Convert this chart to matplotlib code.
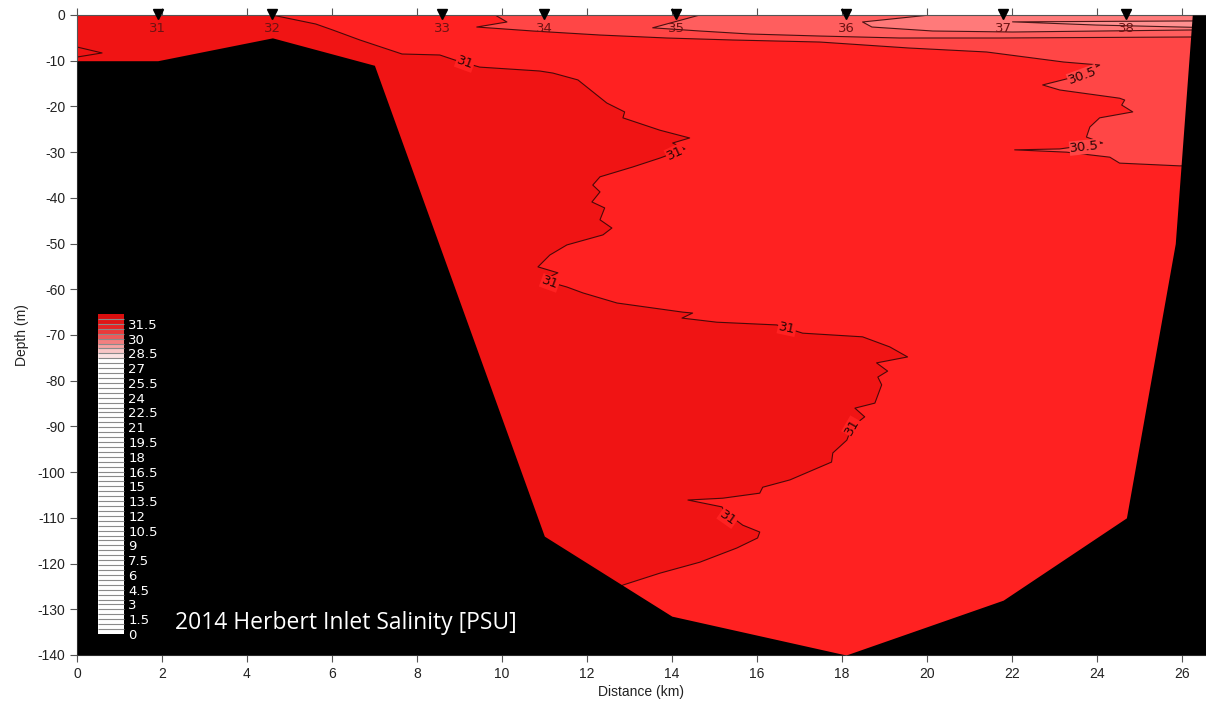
import numpy as np
import matplotlib
matplotlib.use("Agg")
import matplotlib.pyplot as plt
from matplotlib.colors import ListedColormap, BoundaryNorm
from matplotlib.cm import ScalarMappable

plt.rcParams['font.family'] = ['Liberation Sans Narrow', 'Liberation Sans', 'DejaVu Sans']
plt.rcParams['axes.unicode_minus'] = False

# stations along the section
station_names = ['31', '32', '33', '34', '35', '36', '37', '38']
station_km = [1.9, 4.6, 8.6, 11.0, 14.1, 18.1, 21.8, 24.7]

# bottom profile (km, m)
bathy_km = [0.0, 1.9, 4.6, 7.0, 11.0, 14.0, 18.1, 21.8, 24.7, 25.85, 26.25, 26.6]
bathy_m = [-10, -10, -5, -11, -114, -131.5, -140, -128, -110, -50, 0, 0]

# isohaline 31
c31_km = [4.59, 5.62, 6.02, 6.66, 7.65, 8.54, 8.89, 9.48, 10.89, 11.2, 11.79, 12.47, 12.89,
          12.85, 13.72, 14.42, 14.02, 14.31, 13.72, 13.08, 12.31, 12.14, 12.31, 12.12, 12.42,
          12.31, 12.59, 12.38, 11.53, 11.13, 10.85, 11.32, 10.96, 11.53, 11.91, 12.71, 14.26,
          14.49, 14.24, 15.06, 16.47, 17.08, 18.49, 19.13, 19.55, 18.82, 19.08, 18.85, 18.94,
          18.78, 18.31, 18.54, 18.24, 18.12, 17.79, 17.76, 16.78, 16.14, 16.07, 15.2, 14.38,
          15.18, 15.25, 15.67, 16.07, 16.02, 15.53, 14.66, 13.72, 12.85, 12.5]
c31_m = [0, -1.97, -3.28, -5.47, -8.53, -8.75, -9.84, -11.4, -12.25, -12.7, -14.2, -19.25, -21.2,
         -22.5, -25.2, -26.9, -28.0, -29.3, -31.3, -33.25, -35.4, -37.2, -38.7, -40.9, -42.2,
         -44.8, -46.6, -48.1, -50.3, -52.5, -55.1, -56.4, -58.0, -59.5, -60.8, -63.0, -65.0,
         -65.2, -66.3, -67.2, -67.8, -69.6, -70.4, -72.6, -74.8, -76.1, -77.9, -79.2, -80.9,
         -84.9, -86.0, -87.9, -90.1, -93.0, -95.8, -97.8, -101.7, -103.3, -104.6, -105.7, -106.1,
         -107.6, -108.7, -111.6, -113.1, -114.4, -116.6, -119.7, -122.1, -124.7, -127]

# small tongue at the left edge
cleft_km = [0.0, 0.59, 0.0]
cleft_m = [-7.0, -8.3, -9.2]

# isohaline 30.5
c305_km = [9.84, 10.12, 9.41, 10.73, 12.31, 13.88, 15.44, 17.48, 19.58, 21.41, 23.22, 24.07,
           23.67, 22.73, 23.13, 24.54, 24.66, 24.59, 24.85, 24.07, 23.84, 23.76, 24.14, 23.13,
           22.07, 23.29, 24.31, 24.54, 25.95, 26.6]
c305_m = [0, -1.53, -2.63, -3.5, -4.38, -5.03, -5.47, -5.91, -7.22, -8.09, -10.28, -10.94,
          -13.1, -15.3, -16.4, -18.2, -18.6, -19.7, -21.2, -22.5, -24.5, -26.7, -28.0, -29.3,
          -29.5, -30.0, -31.1, -32.4, -33.0, -33.0]

# isohaline 30
c30_km = [14.66, 13.55, 14.66, 15.84, 17.48, 19.36, 21.72, 26.19, 26.6]
c30_m = [0, -2.8, -3.5, -4.16, -4.6, -5.03, -5.03, -4.81, -4.81]

# isohaline 29.5
c295_km = [20.07, 18.49, 18.71, 20.14, 22.02, 26.19, 26.6]
c295_m = [0, -1.53, -2.63, -3.5, -3.72, -3.28, -3.28]

# isohaline 29 (thin wedge)
c29_km = [26.3, 22.02, 24.0, 26.3]
c29_m = [-1.3, -1.5, -2.2, -2.7]

# contour labels
lab_text = ['31', '31', '31', '31', '31', '31', '30.5', '30.5']
lab_km = [9.13, 14.07, 11.13, 16.71, 18.24, 15.32, 23.67, 23.72]
lab_m = [-10.5, -30.2, -58.6, -68.5, -90.1, -110.0, -13.3, -28.9]
lab_rot = [-20, 25, -20, -12, 60, -35, 20, 6]

# colour scale
cb_bounds = np.arange(0, 32.6, 0.5)
cb_ticks = np.arange(0, 31.6, 1.5)

xmax = 26.55

col_A = '#F01414'   # > 31
col_B = '#FF2121'   # 30.5 - 31
col_C = '#FF4646'   # 30 - 30.5
col_D = '#FF5E5E'   # 29.5 - 30
col_E = '#FF7A7A'   # 29 - 29.5
col_F = '#FF9090'   # 28.5 - 29

fig = plt.figure(figsize=(12.06, 7.02), dpi=100)
ax = fig.add_axes([77/1206, 47/702, 1128/1206, 640/702])
ax.set_facecolor(col_B)

# filled salinity classes
ax.fill(np.r_[c31_km, 0, 0], np.r_[c31_m, -140, 0], color=col_A, lw=0)
ax.fill(np.r_[c305_km, xmax], np.r_[c305_m, 0], color=col_C, lw=0)
ax.fill(np.r_[c30_km, xmax], np.r_[c30_m, 0], color=col_D, lw=0)
ax.fill(np.r_[c295_km, xmax], np.r_[c295_m, 0], color=col_E, lw=0)
ax.fill(c29_km, c29_m, color=col_F, lw=0)

lc = '#2a0505'
for xs, ys in [(c31_km, c31_m), (cleft_km, cleft_m), (c305_km, c305_m),
               (c30_km, c30_m), (c295_km, c295_m), (c29_km, c29_m)]:
    ax.plot(xs, ys, color=lc, lw=0.8, alpha=0.85)

for t, x, y, r in zip(lab_text, lab_km, lab_m, lab_rot):
    bg = col_B if t == '31' else col_C
    ax.text(x, y, t, rotation=r, ha='center', va='center', fontsize=9.5,
            family='DejaVu Sans', color='#2a0505',
            bbox=dict(boxstyle='square,pad=0.05', fc=bg, ec='none'))

# bottom
ax.fill_between(bathy_km, bathy_m, -140, color='black', lw=0, zorder=3)

# stations
ax.plot(station_km, np.zeros(len(station_km)) + 0.2, 'v', color='black', ms=7.5,
        clip_on=False, zorder=6)
for n, x in zip(station_names, station_km):
    ax.text(x, -3.0, n, ha='center', va='center', fontsize=9.5, family='DejaVu Sans',
            color='#6e1212', zorder=6)

ax.set_xlim(0, xmax)
ax.set_ylim(-140, 0)
ax.set_xticks(np.arange(0, 27, 2))
ax.set_yticks(np.arange(-140, 1, 10))
ax.tick_params(direction='out', length=5, width=0.8, color='#555555',
               labelsize=10, labelcolor='#222222', top=True, labeltop=False)
ax.spines['right'].set_visible(False)
for s in ['left', 'bottom', 'top']:
    ax.spines[s].set_color('#555555')
    ax.spines[s].set_linewidth(0.8)
ax.set_xlabel('Distance (km)', fontsize=10, color='#222222', labelpad=3)
ax.set_ylabel('Depth (m)', fontsize=10, color='#222222', labelpad=6)

# legend colour bar
reds = ['#FBE3E3', '#F8C6C6', '#F5A3A3', '#F27F7F', '#EE5A5A', '#EA3A3A',
        '#E62424', '#E01616', '#DA0E0E']
cols = ['white'] * (len(cb_bounds) - 1 - len(reds)) + reds
cmap = ListedColormap(cols)
norm = BoundaryNorm(cb_bounds, cmap.N)
cax = ax.inset_axes([0.0186, 0.0328, 0.023, 0.5])
cb = fig.colorbar(ScalarMappable(norm=norm, cmap=cmap), cax=cax, drawedges=True,
                  ticks=cb_ticks, format='%g')
cb.outline.set_visible(False)
cb.dividers.set_color('#8a8a8a')
cb.dividers.set_linewidth(0.8)
cax.tick_params(length=0, labelcolor='white', labelsize=9.5, pad=3)
for t in cax.get_yticklabels():
    t.set_family('DejaVu Sans')
cax.set_zorder(8)

ax.text(0.087, 0.05, '2014 Herbert Inlet Salinity [PSU]', transform=ax.transAxes,
        color='white', fontsize=16.5, family='Open Sans', va='center', zorder=9)

fig.savefig('out.png', dpi=100)
